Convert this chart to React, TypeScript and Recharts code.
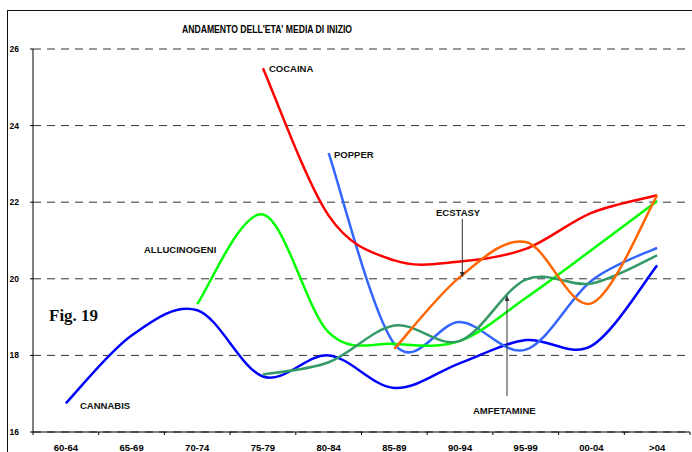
import React from 'react';
import { LineChart, Line, XAxis, YAxis, CartesianGrid } from 'recharts';

const categories = ['60-64', '65-69', '70-74', '75-79', '80-84', '85-89', '90-94', '95-99', '00-04', '>04'];

const cannabis = [16.75, 18.52, 19.18, 17.45, 18.0, 17.15, 17.8, 18.4, 18.25, 20.35];
const cocaina = [null, null, null, 25.5, 21.65, 20.48, 20.45, 20.78, 21.72, 22.18];
const popper = [null, null, null, null, 23.28, 18.3, 18.87, 18.15, 19.95, 20.81];
const allucinogeni = [null, null, 19.34, 21.68, 18.6, 18.3, 18.38, 19.5, 20.75, 22.03];
const amfetamine = [null, null, null, 17.5, 17.82, 18.78, 18.38, 19.98, 19.88, 20.61];
const ecstasy = [null, null, null, null, null, 18.17, 20.05, 20.96, 19.36, 22.18];

const yTicks = [16, 18, 20, 22, 24, 26];

const data = categories.map((c, i) => ({
  cat: c,
  cannabis: cannabis[i],
  cocaina: cocaina[i],
  popper: popper[i],
  allucinogeni: allucinogeni[i],
  amfetamine: amfetamine[i],
  ecstasy: ecstasy[i],
}));

const W = 692;
const H = 452;
const PLOT_LEFT = 33;
const PLOT_RIGHT = 690;
const BAND = (PLOT_RIGHT - PLOT_LEFT) / categories.length;
const FONT = '"Liberation Sans", Arial, sans-serif';

// excel-like smoothed line (catmull-rom as bezier)
const excelSmooth = (context: any) => {
  let pts: number[][] = [];
  return {
    areaStart() {},
    areaEnd() {},
    lineStart() {
      pts = [];
    },
    point(x: number, y: number) {
      pts.push([+x, +y]);
    },
    lineEnd() {
      const n = pts.length;
      if (!n) return;
      context.moveTo(pts[0][0], pts[0][1]);
      for (let i = 0; i < n - 1; i++) {
        const p0 = pts[Math.max(i - 1, 0)];
        const p1 = pts[i];
        const p2 = pts[i + 1];
        const p3 = pts[Math.min(i + 2, n - 1)];
        context.bezierCurveTo(
          p1[0] + (p2[0] - p0[0]) / 6,
          p1[1] + (p2[1] - p0[1]) / 6,
          p2[0] - (p3[0] - p1[0]) / 6,
          p2[1] - (p3[1] - p1[1]) / 6,
          p2[0],
          p2[1]
        );
      }
    },
  };
};

const XTick = (props: any) => {
  const { x, y, payload, index } = props;
  return (
    <g>
      <line x1={x - BAND / 2} x2={x - BAND / 2} y1={y} y2={y + 3} stroke="#000" />
      {index === categories.length - 1 && (
        <line x1={x + BAND / 2} x2={x + BAND / 2} y1={y} y2={y + 3} stroke="#000" />
      )}
      <text x={x} y={y + 18.5} textAnchor="middle" fontSize={9.5} fontWeight="bold" fontFamily={FONT} fill="#000">
        {payload.value}
      </text>
    </g>
  );
};

const labelStyle = { fontSize: 9.5, fontWeight: 'bold' as const, fontFamily: FONT, fill: '#111' };

const series = [
  { key: 'cannabis', color: '#0000FF' },
  { key: 'popper', color: '#3366FF' },
  { key: 'cocaina', color: '#FF0000' },
  { key: 'allucinogeni', color: '#00FF00' },
  { key: 'amfetamine', color: '#339966' },
  { key: 'ecstasy', color: '#FF6600' },
];

export default function App() {
  return (
    <div style={{ position: 'absolute', left: 0, top: 0, width: W, height: H, overflow: 'hidden', background: '#fff' }}>
      <div
        style={{
          position: 'absolute',
          left: 7,
          top: 10,
          width: W + 20,
          height: H + 20,
          border: '1.5px solid #111',
        }}
      />
      <div style={{ position: 'absolute', left: 0, top: 0 }}>
        <LineChart width={W} height={H} data={data} margin={{ top: 49, right: W - PLOT_RIGHT, bottom: 0, left: 0 }}>
          <CartesianGrid horizontal vertical={false} stroke="#333" strokeDasharray="8 6" />
          <XAxis
            dataKey="cat"
            height={20}
            padding={{ left: BAND / 2, right: BAND / 2 }}
            axisLine={{ stroke: '#000', strokeWidth: 1 }}
            tickLine={false}
            tickSize={0}
            tickMargin={0}
            tick={<XTick />}
            interval={0}
          />
          <YAxis
            width={PLOT_LEFT}
            domain={[16, 26]}
            ticks={yTicks}
            interval={0}
            axisLine={{ stroke: '#000', strokeWidth: 1 }}
            tickLine={{ stroke: '#000' }}
            tickSize={3}
            tickMargin={11}
            tick={{ fill: '#000', fontSize: 8.5, fontWeight: 'bold', fontFamily: FONT }}
          />
          {series.map((s) => (
            <Line
              key={s.key}
              dataKey={s.key}
              type={excelSmooth as any}
              stroke={s.color}
              strokeWidth={2.5}
              dot={false}
              activeDot={false}
              isAnimationActive={false}
            />
          ))}
        </LineChart>
      </div>
      <svg width={W} height={H} style={{ position: 'absolute', left: 0, top: 0, pointerEvents: 'none' }}>
        <defs>
          <marker id="arrow" viewBox="0 0 10 10" refX="10" refY="5" markerWidth="5" markerHeight="5" orient="auto">
            <path d="M0,0 L10,5 L0,10 z" fill="#333" />
          </marker>
        </defs>
        <text
          x={267}
          y={33.3}
          textAnchor="middle"
          fontSize={10.5}
          fontWeight="bold"
          fontFamily={FONT}
          fill="#000"
          textLength={170}
          lengthAdjust="spacingAndGlyphs"
        >
          ANDAMENTO DELL'ETA' MEDIA DI INIZIO
        </text>
        <text x={49} y={321} fontSize={17} fontWeight="bold" fontFamily='"Liberation Serif", "Times New Roman", serif' fill="#111">
          Fig. 19
        </text>
        <text x={269} y={71.7} {...labelStyle}>COCAINA</text>
        <text x={334} y={157.7} {...labelStyle}>POPPER</text>
        <text x={436} y={215.7} {...labelStyle}>ECSTASY</text>
        <text x={144} y={252.7} {...labelStyle}>ALLUCINOGENI</text>
        <text x={80} y={409} {...labelStyle}>CANNABIS</text>
        <text x={473} y={414} {...labelStyle}>AMFETAMINE</text>
        <line x1={462.3} y1={219} x2={462.3} y2={277} stroke="#333" strokeWidth={1} markerEnd="url(#arrow)" />
        <line x1={507} y1={396} x2={507} y2={296} stroke="#333" strokeWidth={1} markerEnd="url(#arrow)" />
      </svg>
    </div>
  );
}
